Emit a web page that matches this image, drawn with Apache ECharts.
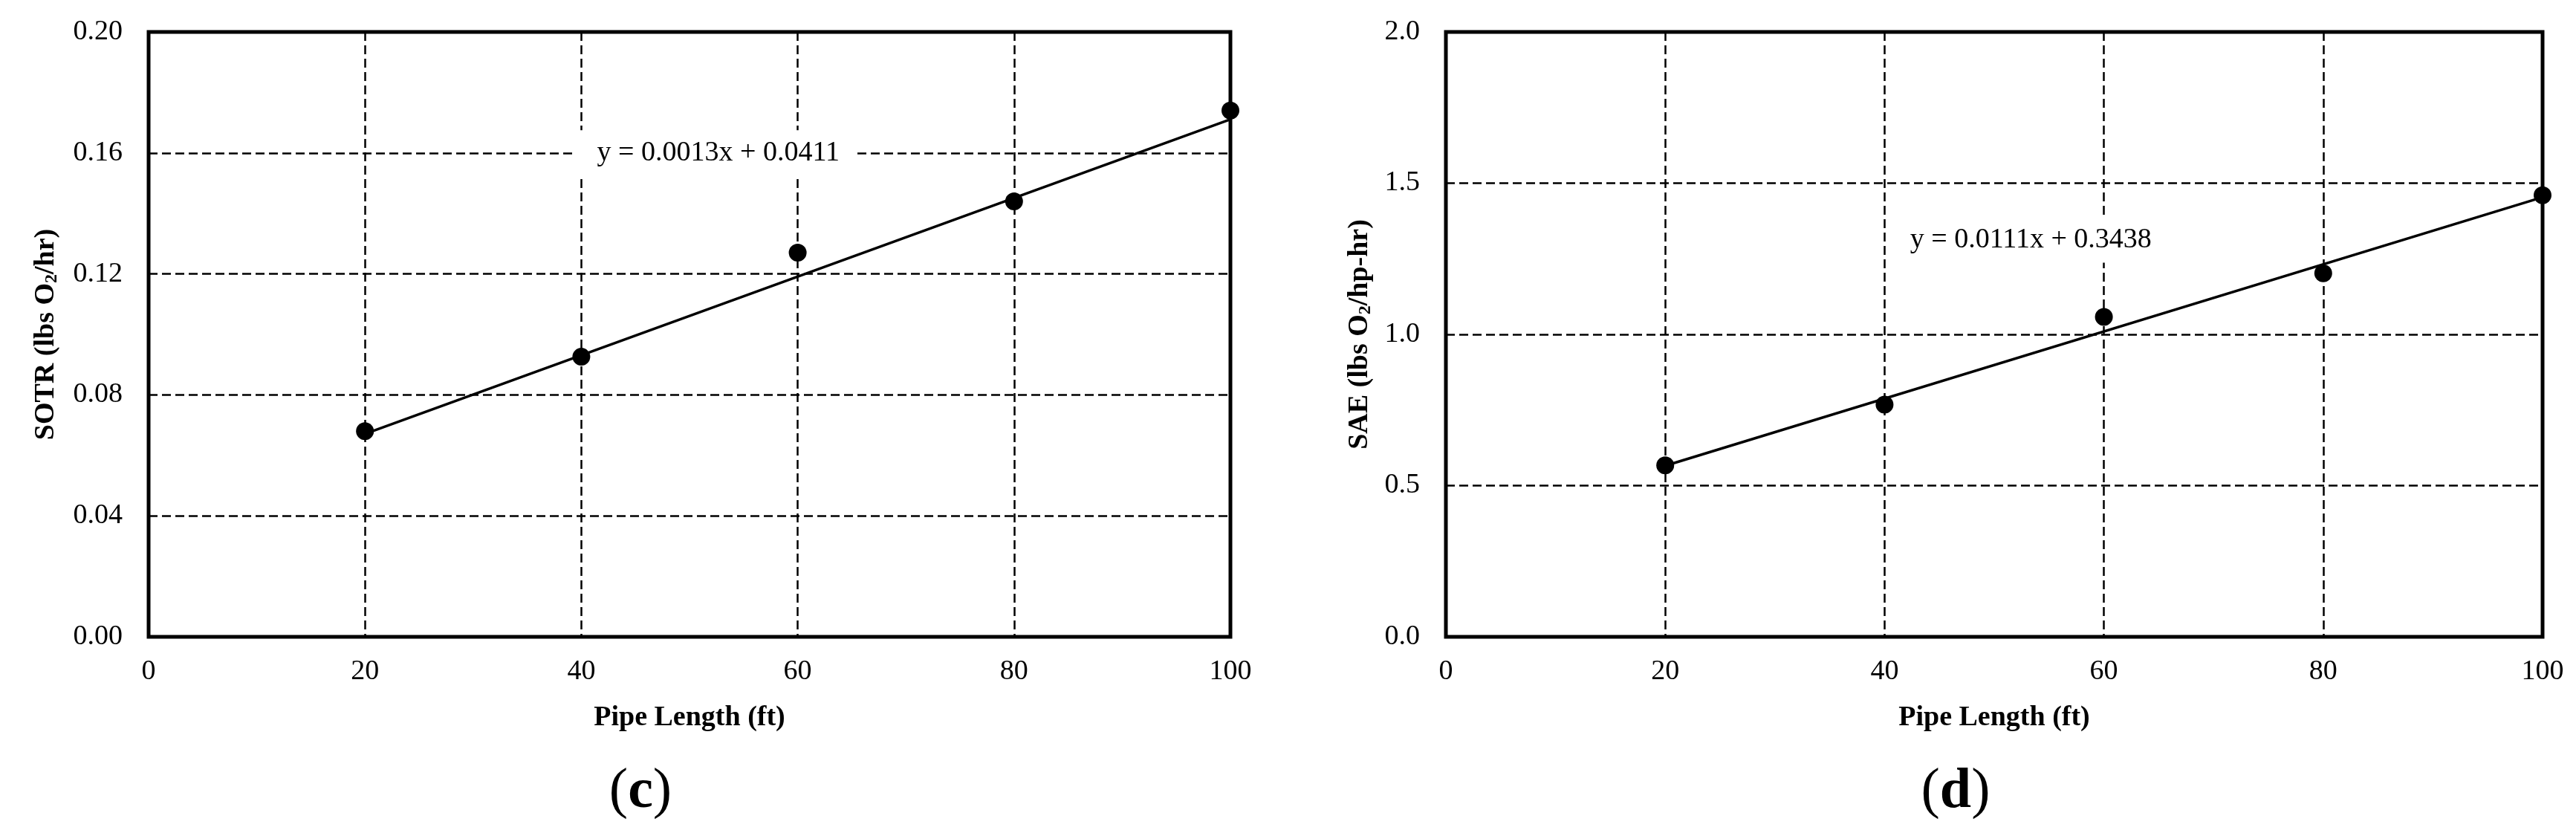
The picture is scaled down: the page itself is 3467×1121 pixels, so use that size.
<!DOCTYPE html>
<html>
<head>
<meta charset="utf-8">
<script src="https://cdn.jsdelivr.net/npm/echarts@6/dist/echarts.min.js"></script>
<style>
html,body{margin:0;padding:0;background:#fff;}
#chart{width:3467px;height:1121px;}
</style>
</head>
<body>
<div id="chart"></div>
<script>
// ---- data ----
const pipeLength = [20, 40, 60, 80, 100];
const sotr = [0.068, 0.0926, 0.127, 0.144, 0.174];
const sae = [0.567, 0.768, 1.058, 1.202, 1.460];
const sotrFit = [0.0013, 0.0411];   // slope, intercept (from the chart's equation)
const saeFit = [0.0111, 0.3438];
const xTickLabels = ['0', '20', '40', '60', '80', '100'];
const sotrTickLabels = ['0.00', '0.04', '0.08', '0.12', '0.16', '0.20'];
const saeTickLabels = ['0.0', '0.5', '1.0', '1.5', '2.0'];
const sotrEquation = 'y = 0.0013x + 0.0411';
const saeEquation = 'y = 0.0111x + 0.3438';
const panelLabels = ['c', 'd'];
const xTitle = 'Pipe Length (ft)';

// ---- build ----
const FONT = '"Liberation Serif", "Times New Roman", serif';
const chart = echarts.init(document.getElementById('chart'), null, {renderer: 'canvas'});

function fitLine(fit) {
  const x0 = Math.min.apply(null, pipeLength), x1 = Math.max.apply(null, pipeLength);
  return [[x0, fit[0] * x0 + fit[1]], [x1, fit[0] * x1 + fit[1]]];
}
const dashed = {color: '#000', width: 2.5, type: [12, 6]};

function xAxisCfg(gi) {
  return {
    type: 'value', gridIndex: gi, min: 0, max: 100, interval: 20,
    name: xTitle, nameLocation: 'middle', nameGap: 90,
    nameTextStyle: {fontFamily: FONT, fontWeight: 'bold', fontSize: 38, color: '#000'},
    axisLine: {show: false}, axisTick: {show: false},
    axisLabel: {margin: 28, fontFamily: FONT, fontSize: 38, color: '#000', showMinLabel: true, showMaxLabel: true,
      formatter: v => xTickLabels[Math.round(v / 20)]},
    splitLine: {show: true, lineStyle: dashed}
  };
}
function yAxisCfg(gi, max, interval, labels, name, gap) {
  return {
    type: 'value', gridIndex: gi, min: 0, max: max, interval: interval,
    name: name, nameLocation: 'middle', nameGap: gap, nameRotate: 90,
    nameTextStyle: {fontFamily: FONT, fontWeight: 'bold', fontSize: 38, color: '#000', lineHeight: 40,
      rich: {sub: {fontFamily: FONT, fontWeight: 'bold', fontSize: 24, color: '#000', verticalAlign: 'bottom', lineHeight: 24}}},
    axisLine: {show: false}, axisTick: {show: false},
    axisLabel: {margin: 35, fontFamily: FONT, fontSize: 38, color: '#000', showMinLabel: true, showMaxLabel: true,
      formatter: v => labels[Math.round(v / interval)]},
    splitLine: {show: true, lineStyle: dashed}
  };
}
function eqMark(coord, text) {
  return {
    silent: true, symbol: 'rect', symbolSize: 1,
    itemStyle: {color: 'rgba(0,0,0,0)'},
    data: [{coord: coord}],
    label: {show: true, position: 'right', distance: 0, formatter: text,
      fontFamily: FONT, fontSize: 38, color: '#000', backgroundColor: '#fff', padding: [17, 18, 6, 28]}
  };
}
function panelText(x, letter) {
  return {
    type: 'text', x: x, y: 1066, silent: true,
    style: {
      text: '{p|(}{b|' + letter + '}{p|)}',
      align: 'center', verticalAlign: 'middle', fill: '#000',
      fontFamily: FONT, fontSize: 76,
      rich: {
        p: {fontFamily: FONT, fontSize: 76, fontWeight: 'normal', fill: '#000'},
        b: {fontFamily: FONT, fontSize: 76, fontWeight: 'bold', fill: '#000'}
      }
    }
  };
}

const option = {
  animation: false,
  backgroundColor: '#fff',
  grid: [
    {left: 200, top: 43, width: 1456, height: 814, show: true, borderColor: '#000', borderWidth: 5, backgroundColor: 'transparent'},
    {left: 1946, top: 43, width: 1476, height: 814, show: true, borderColor: '#000', borderWidth: 5, backgroundColor: 'transparent'}
  ],
  xAxis: [xAxisCfg(0), xAxisCfg(1)],
  yAxis: [
    yAxisCfg(0, 0.2, 0.04, sotrTickLabels, 'SOTR (lbs O{sub|2}/hr)', 118),
    yAxisCfg(1, 2.0, 0.5, saeTickLabels, 'SAE (lbs O{sub|2}/hp-hr)', 96)
  ],
  series: [
    {type: 'line', xAxisIndex: 0, yAxisIndex: 0, data: fitLine(sotrFit), symbol: 'none', silent: true,
      lineStyle: {color: '#000', width: 3.5, opacity: 1}, z: 2, markPoint: eqMark([39.5, 0.160], sotrEquation)},
    {type: 'scatter', xAxisIndex: 0, yAxisIndex: 0, data: pipeLength.map((x, i) => [x, sotr[i]]),
      symbol: 'circle', symbolSize: 24, itemStyle: {color: '#000', opacity: 1, borderWidth: 0}, z: 3},
    {type: 'line', xAxisIndex: 1, yAxisIndex: 1, data: fitLine(saeFit), symbol: 'none', silent: true,
      lineStyle: {color: '#000', width: 3.5, opacity: 1}, z: 2, markPoint: eqMark([40.4, 1.312], saeEquation)},
    {type: 'scatter', xAxisIndex: 1, yAxisIndex: 1, data: pipeLength.map((x, i) => [x, sae[i]]),
      symbol: 'circle', symbolSize: 24, itemStyle: {color: '#000', opacity: 1, borderWidth: 0}, z: 3}
  ],
  graphic: [panelText(862, panelLabels[0]), panelText(2632, panelLabels[1])]
};
chart.setOption(option);
</script>
</body>
</html>
